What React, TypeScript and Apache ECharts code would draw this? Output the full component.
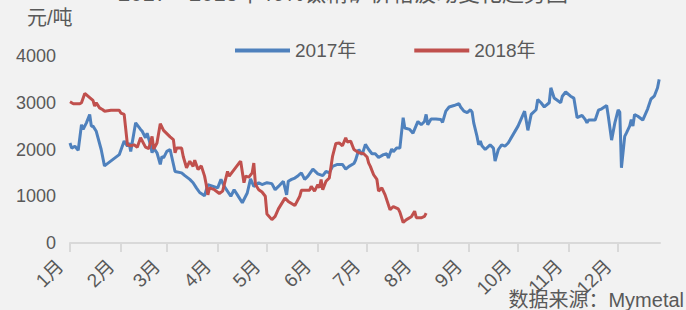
import React, { useEffect, useRef } from "react";
import * as echarts from "echarts";

const MONTH_LABELS = ["1月", "2月", "3月", "4月", "5月", "6月", "7月", "8月", "9月", "10月", "11月", "12月"];
const MONTH_START = [0, 31, 59, 90, 120, 151, 181, 212, 243, 273, 304, 334];
const Y_TICKS = [0, 1000, 2000, 3000, 4000];

const dates2017 = ["01-01","01-02","01-04","01-06","01-08","01-09","01-11","01-13","01-14","01-15","01-17","01-20","01-22","01-31","02-03","02-05","02-06","02-07","02-10","02-13","02-14","02-16","02-17","02-19","02-20","02-21","02-23","02-25","02-26","02-27","03-01","03-03","03-06","03-10","03-12","03-15","03-17","03-19","03-21","03-24","03-26","04-01","04-03","04-05","04-09","04-11","04-13","04-16","04-19","04-21","04-23","04-26","04-28","05-01","05-04","05-06","05-08","05-11","05-13","05-14","05-16","05-18","05-20","05-22","05-24","05-26","05-29","06-01","06-04","06-06","06-08","06-10","06-13","06-16","06-18","06-20","06-23","06-24","06-26","06-28","06-30","07-02","07-04","07-06","07-08","07-11","07-13","07-14","07-16","07-17","07-19","07-21","07-23","07-24","07-27","07-29","08-01","08-03","08-05","08-06","08-07","08-09","08-12","08-15","08-16","08-18","08-20","08-23","08-26","08-27","08-29","08-31","09-02","09-03","09-04","09-06","09-07","09-08","09-09","09-11","09-14","09-16","09-17","09-19","09-21","09-23","09-25","10-01","10-05","10-07","10-09","10-12","10-13","10-15","10-17","10-20","10-21","10-23","10-27","10-28","10-30","11-02","11-04","11-06","11-09","11-11","11-12","11-13","11-17","11-19","11-21","11-24","11-25","11-27","11-29","12-01","12-02","12-03","12-05","12-06","12-08","12-09","12-10","12-11","12-13","12-16","12-19","12-21","12-23","12-25","12-26"];
const values2017 = [2140,2030,2070,1980,2530,2430,2570,2750,2500,2500,2390,2000,1650,1890,2180,2070,2140,1960,2570,2430,2390,2250,2350,2100,1930,2030,1930,1680,1850,1820,1960,2000,1530,1500,1440,1360,1290,1180,1080,1010,1250,1180,1360,1210,1000,1140,1030,860,1070,1370,1210,1290,1250,1290,1270,1140,1210,1320,1030,1320,1360,1390,1440,1500,1360,1430,1580,1480,1440,1530,1500,1640,1680,1680,1580,1640,1700,1770,2000,1890,2110,2000,1910,1910,1830,1890,1910,1820,2010,1950,2030,2030,2680,2460,2430,2350,2600,2530,2600,2750,2530,2650,2650,2640,2580,2820,2910,2940,2980,2910,2820,2790,2850,2800,2570,2280,2100,2180,2080,2000,2100,2030,1750,2000,2100,2070,2140,2500,2820,2410,2750,2850,3070,3000,2910,3000,3320,3100,3000,3140,3230,3140,3100,2680,2730,2640,2570,2630,2630,2840,2870,2940,2710,2200,2570,2850,2800,1610,2280,2350,2500,2640,2500,2750,2710,2630,2870,3080,3140,3320,3500];

const dates2018 = ["01-01","01-03","01-07","01-08","01-10","01-13","01-15","01-16","01-17","01-19","01-21","01-22","01-26","01-31","02-01","02-03","02-05","02-07","02-09","02-11","02-13","02-16","02-18","02-20","02-21","02-23","02-25","02-27","03-01","03-03","03-05","03-06","03-07","03-10","03-11","03-13","03-15","03-17","03-18","03-20","03-22","03-24","03-25","03-26","03-27","03-30","04-02","04-04","04-07","04-08","04-11","04-14","04-15","04-17","04-18","04-20","04-22","04-23","04-24","04-26","04-28","04-30","05-01","05-04","05-06","05-08","05-12","05-14","05-18","05-21","05-22","05-27","05-28","05-30","06-01","06-02","06-03","06-04","06-06","06-08","06-10","06-12","06-14","06-16","06-18","06-19","06-21","06-23","06-26","06-29","07-01","07-02","07-03","07-05","07-07","07-08","07-10","07-12","07-15","07-17","07-20","07-21","07-23","07-25","07-28","07-30","07-31","08-03","08-05","08-06"];
const values2018 = [3020,2980,2980,3000,3200,3110,3050,2930,3000,2890,2850,2820,2840,2840,2780,2750,2100,2080,2100,2050,2250,2050,2020,2280,2010,2140,2550,2410,2340,2270,2210,1930,2030,2030,1850,1610,1750,1640,1770,1570,1650,1430,1250,1030,1180,1140,1060,1110,1530,1430,1570,1710,1750,1290,1430,1410,1500,1710,1250,1140,1090,1000,620,500,570,730,960,890,800,1000,1130,1130,1210,1110,1250,1180,1360,1140,1320,1390,1860,2130,2140,2080,2250,2160,2180,2000,1930,1910,1840,1710,1640,1460,1360,1110,1180,1030,710,780,730,660,440,500,560,680,540,540,570,640];

const dayOf = (s: string) => {
  const [m, d] = s.split("-").map(Number);
  return MONTH_START[m - 1] + d - 1;
};

const FONT = "'Liberation Sans', 'Noto Sans CJK SC', sans-serif";
const TEXT = "#595959";

export default function App() {
  const ref = useRef<HTMLDivElement>(null);
  useEffect(() => {
    document.body.style.margin = "0";
    document.body.style.background = "#f2f2f2";
    if (!ref.current) return;
    const chart = echarts.init(ref.current, null, { renderer: "svg" });
    chart.setOption({
      animation: false,
      backgroundColor: "#f2f2f2",
      textStyle: { fontFamily: FONT },
      title: {
        text: "元/吨",
        left: 27,
        top: 8,
        padding: 0,
        textStyle: { fontSize: 20, fontWeight: "normal", color: TEXT, fontFamily: FONT },
      },
      grid: { left: 70, right: 26, top: 56, bottom: 67, containLabel: false },
      legend: {
        left: 230,
        top: 36,
        icon: "rect",
        itemWidth: 55,
        itemHeight: 4,
        itemGap: 58,
        textStyle: { fontSize: 19, color: TEXT, fontFamily: FONT },
        data: ["2017年", "2018年"],
      },
      graphic: [
        {
          type: "text",
          left: "center",
          top: -18,
          style: { text: "2017－2018年46%钛精矿价格波动变化趋势图", fontSize: 22, fill: TEXT, fontFamily: FONT },
        },
        {
          type: "text",
          right: 2,
          top: 290,
          style: { text: "数据来源：Mymetal", fontSize: 20, fill: TEXT, fontFamily: FONT },
        },
      ],
      xAxis: {
        type: "value",
        min: 0,
        max: 359.5,
        splitLine: { show: false },
        axisLine: { show: true, lineStyle: { color: "#d9d9d9", width: 2 } },
        axisTick: { show: true, customValues: MONTH_START, length: 9, lineStyle: { color: "#d9d9d9", width: 2 } },
        axisLabel: {
          customValues: MONTH_START,
          rotate: 45,
          margin: 10,
          padding: [0, 14, 0, 0],
          fontSize: 19,
          color: TEXT,
          fontFamily: FONT,
          formatter: (v: number) => MONTH_LABELS[MONTH_START.indexOf(v)] ?? "",
        },
      },
      yAxis: {
        type: "value",
        min: 0,
        max: 4000,
        interval: 1000,
        splitLine: { show: false },
        axisLine: { show: false },
        axisTick: { show: false },
        axisLabel: {
          fontSize: 18,
          color: TEXT,
          margin: 14,
          fontFamily: FONT,
          customValues: Y_TICKS,
          formatter: (v: number) => String(v),
        },
      },
      series: [
        {
          name: "2017年",
          type: "line",
          showSymbol: false,
          symbol: "none",
          color: "#4F81BD",
          lineStyle: { width: 3, color: "#4F81BD" },
          data: dates2017.map((d, i) => [dayOf(d), values2017[i]]),
        },
        {
          name: "2018年",
          type: "line",
          showSymbol: false,
          symbol: "none",
          color: "#C0504D",
          lineStyle: { width: 3, color: "#C0504D" },
          data: dates2018.map((d, i) => [dayOf(d), values2018[i]]),
        },
      ],
    });
    return () => chart.dispose();
  }, []);
  return <div ref={ref} style={{ width: 686, height: 310 }} />;
}
